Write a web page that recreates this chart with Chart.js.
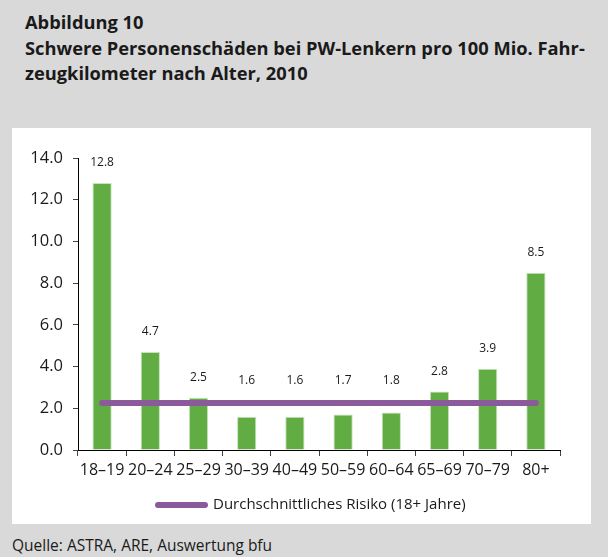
<!DOCTYPE html>
<html>
<head>
<meta charset="utf-8">
<script src="https://cdn.jsdelivr.net/npm/chart.js@4.4.1/dist/chart.umd.min.js"></script>
<style>
    html, body { margin: 0; padding: 0; }
    body {
        width: 608px; height: 557px; background: #d9d9d9;
        position: relative; overflow: hidden;
        font-family: "Open Sans", sans-serif; color: #1a1a1a;
    }
    #title {
        position: absolute; left: 25px; top: 9px;
        font-weight: bold; font-size: 18.3px; line-height: 25.5px;
    }
    #panel {
        position: absolute; left: 12px; top: 128px;
        width: 579px; height: 396px; background: #fff;
    }
    #source {
        position: absolute; left: 12px; top: 534px;
        font-size: 15.5px;
    }
</style>
</head>
<body>
<div id="title">Abbildung 10<br>Schwere Personenschäden bei PW-Lenkern pro 100 Mio. Fahr-<br>zeugkilometer nach Alter, 2010</div>
<div id="panel"><canvas id="chart" width="579" height="396"></canvas></div>
<div id="source">Quelle: ASTRA, ARE, Auswertung bfu</div>
<script>
// age groups and risk values
const ageGroups = ['18–19', '20–24', '25–29', '30–39', '40–49', '50–59', '60–64', '65–69', '70–79', '80+'];
const riskValues = [12.8, 4.7, 2.5, 1.6, 1.6, 1.7, 1.8, 2.8, 3.9, 8.5];
const averageRisk = [2.25, 2.25, 2.25, 2.25, 2.25, 2.25, 2.25, 2.25, 2.25, 2.25];
const yTicks = [0, 2, 4, 6, 8, 10, 12, 14];

const green = '#62ad43';
const purple = '#8b5a9b';
const textColor = '#1a1a1a';

// value labels above bars, kept clear of the average line
const valueLabels = {
    id: 'valueLabels',
    afterDatasetsDraw(chart) {
        const ctx = chart.ctx;
        const meta = chart.getDatasetMeta(1);
        const lineY = chart.scales.y.getPixelForValue(averageRisk[0]);
        ctx.save();
        ctx.font = '12px "Open Sans"';
        ctx.fillStyle = textColor;
        ctx.textAlign = 'center';
        ctx.textBaseline = 'middle';
        meta.data.forEach((bar, i) => {
            const y = Math.min(bar.y - 20, lineY - 22);
            ctx.fillText(riskValues[i].toFixed(1), bar.x, y);
        });
        ctx.restore();
    }
};

// legend: thick rounded line sample plus label
const lineLegend = {
    id: 'lineLegend',
    afterDraw(chart) {
        const ctx = chart.ctx;
        const ds = chart.data.datasets[0];
        const y = 377;
        const x0 = 143;
        ctx.save();
        ctx.strokeStyle = purple;
        ctx.lineWidth = 6;
        ctx.lineCap = 'round';
        ctx.beginPath();
        ctx.moveTo(x0 + 3, y);
        ctx.lineTo(x0 + 50, y);
        ctx.stroke();
        ctx.font = '15px "Open Sans"';
        ctx.fillStyle = textColor;
        ctx.textAlign = 'left';
        ctx.textBaseline = 'middle';
        ctx.fillText(ds.label, x0 + 58, y);
        ctx.restore();
    }
};

new Chart(document.getElementById('chart'), {
    data: {
        labels: ageGroups,
        datasets: [
            {
                type: 'line',
                label: 'Durchschnittliches Risiko (18+ Jahre)',
                data: averageRisk,
                borderColor: purple,
                borderWidth: 6,
                borderCapStyle: 'round',
                pointRadius: 0,
                order: 0
            },
            {
                type: 'bar',
                label: 'Risiko',
                data: riskValues,
                backgroundColor: green,
                borderColor: '#c9e3bd',
                borderWidth: { top: 1, left: 1, right: 1, bottom: 0 },
                borderSkipped: 'bottom',
                categoryPercentage: 1,
                barPercentage: 0.4,
                order: 1
            }
        ]
    },
    options: {
        responsive: false,
        animation: false,
        layout: { padding: { left: 0, right: 31, top: 30, bottom: 38 } },
        plugins: {
            tooltip: { enabled: false },
            legend: { display: false }
        },
        scales: {
            x: {
                offset: true,
                grid: {
                    offset: true,
                    drawOnChartArea: false,
                    drawTicks: true,
                    tickLength: 6,
                    color: '#444'
                },
                border: { color: '#000', width: 1 },
                ticks: {
                    color: textColor,
                    font: { family: 'Open Sans', size: 16 },
                    padding: 5,
                    maxRotation: 0,
                    autoSkip: false
                },
                afterFit: s => { s.height = 36; }
            },
            y: {
                min: 0,
                max: 14,
                afterBuildTicks: s => { s.ticks = yTicks.map(v => ({ value: v })); },
                grid: {
                    drawOnChartArea: false,
                    drawTicks: true,
                    tickLength: 5,
                    color: '#444'
                },
                border: { color: '#000', width: 1 },
                ticks: {
                    color: textColor,
                    font: { family: 'Open Sans', size: 16.5 },
                    padding: 10,
                    callback: v => v.toFixed(1)
                },
                afterFit: s => { s.width = 66; }
            }
        }
    },
    plugins: [valueLabels, lineLegend]
});
</script>
</body>
</html>
